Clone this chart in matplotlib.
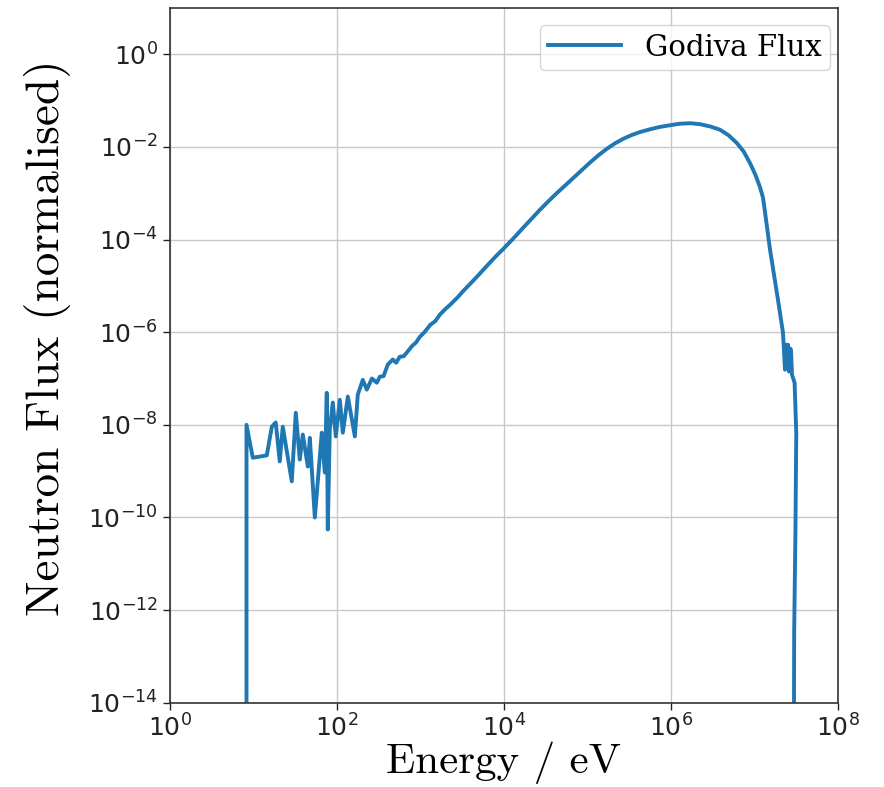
import matplotlib
matplotlib.use("Agg")
import matplotlib.pyplot as plt
import numpy as np
from matplotlib.ticker import NullLocator, FixedLocator

# log10(Energy / eV) and log10(flux)
log_energy = [0.919, 0.919, 0.994, 1.162, 1.222, 1.269, 1.317, 1.353, 1.461, 1.509,
              1.557, 1.593, 1.653, 1.677, 1.737, 1.820, 1.856, 1.880, 1.892, 1.916,
              1.952, 1.988, 2.036, 2.072, 2.132, 2.216, 2.251, 2.311, 2.359, 2.420,
              2.479, 2.515, 2.560, 2.610, 2.671, 2.710, 2.754, 2.800, 2.838, 2.900,
              2.950, 2.994, 3.050, 3.120, 3.180, 3.234, 3.300, 3.350, 3.440, 3.509,
              3.600, 3.700, 3.796, 3.900, 4.000, 4.096, 4.260, 4.431, 4.530, 4.630,
              4.826, 5.030, 5.130, 5.230, 5.330, 5.430, 5.530, 5.630, 5.750, 5.868,
              6.000, 6.108, 6.230, 6.347, 6.470, 6.587, 6.690, 6.790, 6.870, 6.946,
              7.010, 7.066, 7.102, 7.126, 7.186, 7.281, 7.341, 7.365, 7.377,
              7.389, 7.401, 7.413, 7.425, 7.437, 7.449, 7.480, 7.500, 7.490, 7.475,
              7.465]
log_flux = [-20.0, -8.00, -8.71, -8.66, -8.04, -7.95, -8.79, -8.04, -9.22, -7.74,
            -8.75, -8.21, -8.90, -8.28, -10.00, -8.17, -9.03, -7.31, -10.26, -8.10,
            -7.52, -8.25, -7.46, -8.17, -7.39, -8.25, -7.35, -7.03, -7.24, -7.00,
            -7.09, -6.96, -6.95, -6.70, -6.59, -6.66, -6.53, -6.52, -6.44, -6.30,
            -6.22, -6.10, -6.00, -5.84, -5.76, -5.62, -5.50, -5.42, -5.26, -5.12,
            -4.95, -4.76, -4.57, -4.37, -4.19, -4.01, -3.69, -3.36, -3.18, -3.005,
            -2.68, -2.34, -2.185, -2.045, -1.925, -1.825, -1.745, -1.68, -1.62, -1.57,
            -1.53, -1.50, -1.49, -1.51, -1.56, -1.63, -1.75, -1.92, -2.10, -2.35,
            -2.60, -2.87, -3.10, -3.41, -4.22, -5.30, -6.01, -6.81, -6.27,
            -6.75, -6.27, -6.85, -6.35, -6.38, -6.92, -7.09, -8.17, -10.32, -12.48,
            -20.0]

energy = np.power(10.0, log_energy)
flux = np.power(10.0, log_flux)

x_ticks = [1e0, 1e2, 1e4, 1e6, 1e8]
y_ticks = [1e-14, 1e-12, 1e-10, 1e-8, 1e-6, 1e-4, 1e-2, 1e0]

plt.rcParams['mathtext.fontset'] = 'dejavusans'
plt.rcParams['font.family'] = ['DejaVu Sans']

fig = plt.figure(figsize=(8.84, 7.87), dpi=100)
ax = fig.add_axes([0.192, 0.107, 0.756, 0.883])

ax.plot(energy, flux, color='#1f77b4', lw=2.8, label='Godiva Flux')
ax.set_xscale('log')
ax.set_yscale('log')
ax.set_xlim(1e0, 1e8)
ax.set_ylim(1e-14, 1e1)
ax.xaxis.set_major_locator(FixedLocator(x_ticks))
ax.yaxis.set_major_locator(FixedLocator(y_ticks))
ax.xaxis.set_minor_locator(NullLocator())
ax.yaxis.set_minor_locator(NullLocator())

ax.grid(True, color='#c8c8c8', lw=1.0)
ax.set_axisbelow(True)
ax.tick_params(axis='both', which='major', labelsize=18, length=5, width=1,
               direction='out', colors='#222222', labelcolor='#222222')
for s in ax.spines.values():
    s.set_color('#333333')
    s.set_linewidth(1.2)

ax.set_xlabel('Energy / eV', fontsize=31, family='cmr10', labelpad=0)
ax.set_ylabel('Neutron Flux (normalised)', fontsize=34, family='cmr10')
ax.yaxis.set_label_coords(-0.147, 0.525)

leg = ax.legend(loc='upper right', bbox_to_anchor=(1 - 8 / 668, 1 - 17 / 695),
                borderaxespad=0, frameon=True, fancybox=True,
                handlelength=2.5, borderpad=0.3,
                prop={'family': 'DejaVu Serif', 'size': 21})
leg.get_frame().set_edgecolor('#cccccc')

fig.savefig('out.png', dpi=100)
